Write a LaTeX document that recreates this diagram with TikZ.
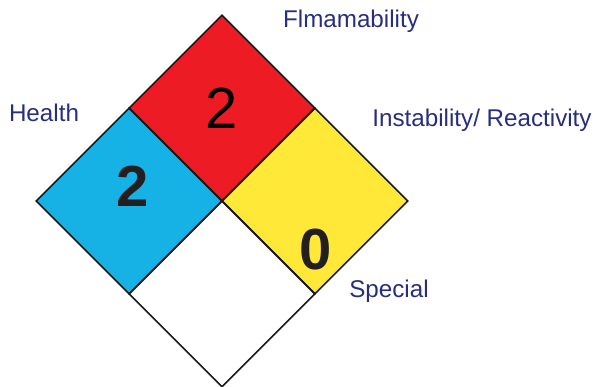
\documentclass[tikz,border=0pt]{standalone}
\usepackage{fontspec}
\setmainfont{Liberation Sans}
\usetikzlibrary{shapes.geometric}
\definecolor{firered}{RGB}{237,28,36}
\definecolor{healthblue}{RGB}{22,177,229}
\definecolor{reactyellow}{RGB}{255,232,56}
\definecolor{labelnavy}{RGB}{40,46,125}
\definecolor{numgray}{RGB}{35,31,32}

\begin{document}
\begin{tikzpicture}[x=1pt, y=-1pt,
  quad/.style={draw=black!90, line width=1.6pt, shape=diamond, aspect=1, inner sep=0pt, minimum width=186pt, minimum height=186pt},
  num/.style={text=numgray, font=\fontsize{58}{60}\selectfont\bfseries, inner sep=0pt},
  tag/.style={text=labelnavy, font=\fontsize{24.2}{27}\selectfont, inner sep=0pt}]
\useasboundingbox (0,0) rectangle (595,387);
% the four quarters
\node[quad, fill=firered] (flam) at (222,108) {};
\node[quad, fill=healthblue] (health) at (129,201) {};
\node[quad, fill=reactyellow] (react) at (315,201) {};
\node[quad, fill=white] (special) at (222,294) {};
% ratings
\node[num, font=\fontsize{58}{60}\selectfont, text=black] (flamnum) at (222,108) {2};
\node[num] (healthnum) at (133,186) {2};
\node[num] (reactnum) at (316,250) {0};
% captions
\node[tag] (flamtag) at (351,21) {Flmamability};
\node[tag] (healthtag) at (44,113) {Health};
\node[tag] (reacttag) at (482,120) {Instability/ Reactivity};
\node[tag] (specialtag) at (389,291) {Special};
\end{tikzpicture}
\end{document}
